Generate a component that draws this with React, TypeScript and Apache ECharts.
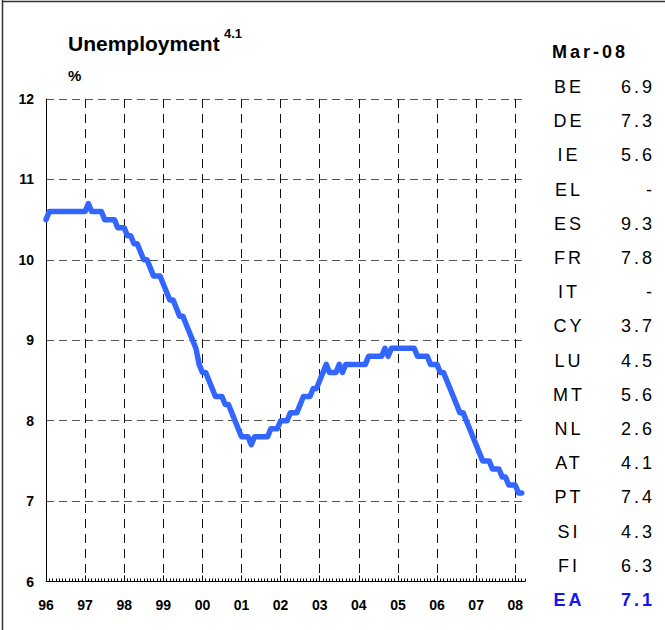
import React, { useEffect, useRef } from "react";
import * as echarts from "echarts";

// ---- data ----
const yearLabels = ["96", "97", "98", "99", "00", "01", "02", "03", "04", "05", "06", "07", "08"];
const axisMonthCount = 148; // Jan 96 .. Apr 08

const u1996 = [10.5, 10.6, 10.6, 10.6, 10.6, 10.6, 10.6, 10.6, 10.6, 10.6, 10.6, 10.6];
const u1997 = [10.6, 10.7, 10.6, 10.6, 10.6, 10.6, 10.5, 10.5, 10.5, 10.5, 10.4, 10.4];
const u1998 = [10.4, 10.3, 10.3, 10.2, 10.2, 10.1, 10.0, 10.0, 9.9, 9.8, 9.8, 9.8];
const u1999 = [9.7, 9.6, 9.5, 9.5, 9.4, 9.3, 9.3, 9.2, 9.1, 9.0, 8.9, 8.7];
const u2000 = [8.6, 8.6, 8.5, 8.4, 8.3, 8.3, 8.3, 8.2, 8.2, 8.1, 8.0, 7.9];
const u2001 = [7.8, 7.8, 7.8, 7.7, 7.8, 7.8, 7.8, 7.8, 7.8, 7.9, 7.9, 7.9];
const u2002 = [8.0, 8.0, 8.0, 8.1, 8.1, 8.1, 8.2, 8.3, 8.3, 8.3, 8.4, 8.4];
const u2003 = [8.5, 8.6, 8.7, 8.6, 8.6, 8.6, 8.7, 8.6, 8.7, 8.7, 8.7, 8.7];
const u2004 = [8.7, 8.7, 8.7, 8.8, 8.8, 8.8, 8.8, 8.8, 8.9, 8.8, 8.9, 8.9];
const u2005 = [8.9, 8.9, 8.9, 8.9, 8.9, 8.9, 8.8, 8.8, 8.8, 8.8, 8.7, 8.7];
const u2006 = [8.7, 8.6, 8.6, 8.5, 8.4, 8.3, 8.2, 8.1, 8.1, 8.0, 7.9, 7.8];
const u2007 = [7.7, 7.6, 7.5, 7.5, 7.5, 7.4, 7.4, 7.4, 7.3, 7.3, 7.2, 7.2];
const u2008 = [7.2, 7.1, 7.1];

const unemployment = [
  ...u1996, ...u1997, ...u1998, ...u1999, ...u2000, ...u2001, ...u2002,
  ...u2003, ...u2004, ...u2005, ...u2006, ...u2007, ...u2008,
];

const yMin = 6;
const yMax = 12;
const yStep = 1;

const tableHeader = "Mar-08";
const countryCodes = ["BE", "DE", "IE", "EL", "ES", "FR", "IT", "CY", "LU", "MT", "NL", "AT", "PT", "SI", "FI"];
const countryValues = ["6.9", "7.3", "5.6", "-", "9.3", "7.8", "-", "3.7", "4.5", "5.6", "2.6", "4.1", "7.4", "4.3", "6.3"];
const aggregateCode = "EA";
const aggregateValue = "7.1";

const months: string[] = [];
yearLabels.forEach((y) => {
  for (let m = 1; m <= 12; m++) months.push(`${y}-${m < 10 ? "0" + m : m}`);
});
const axisMonths = months.slice(0, axisMonthCount);

const FONT = "Arial, 'Liberation Sans', sans-serif";

export default function App() {
  const ref = useRef<HTMLDivElement>(null);
  const tref = useRef<HTMLDivElement>(null);
  useEffect(() => {
    if (!ref.current || !tref.current) return;
    const chart = echarts.init(ref.current, undefined, { renderer: "svg" });
    const table = echarts.init(tref.current, undefined, { renderer: "svg" });
    const yearTick = (i: number) => i % 12 === 0;

    const graphics: any[] = [
      { type: "line", shape: { x1: 2.5, y1: 0, x2: 2.5, y2: 630 }, style: { stroke: "#333", lineWidth: 1.5 } },
      { type: "line", shape: { x1: 2, y1: 1.5, x2: 665, y2: 1.5 }, style: { stroke: "#333", lineWidth: 1.5 } },
      {
        type: "text",
        style: { text: "Unemployment", x: 68, y: 43, font: `bold 21px ${FONT}`, fill: "#000", align: "left", verticalAlign: "middle" },
      },
      {
        type: "text",
        style: { text: "4.1", x: 224, y: 33, font: `bold 13px ${FONT}`, fill: "#000", align: "left", verticalAlign: "middle" },
      },
      {
        type: "text",
        style: { text: "%", x: 68, y: 75, font: `bold 15px ${FONT}`, fill: "#000", align: "left", verticalAlign: "middle" },
      },
    ];

    const tgraphics: any[] = [
      {
        type: "text",
        style: { text: tableHeader, x: 552, y: 51.5, font: `bold 18px ${FONT}`, fill: "#000", align: "left", verticalAlign: "middle" },
      },
    ];
    const rowY = (i: number) => 87 + i * 34.2;
    countryCodes.forEach((c, i) => {
      tgraphics.push({
        type: "text",
        style: { text: c, x: 569, y: rowY(i), font: `18px ${FONT}`, fill: "#000", align: "center", verticalAlign: "middle" },
      });
      tgraphics.push({
        type: "text",
        style: { text: countryValues[i], x: 655, y: rowY(i), font: `18px ${FONT}`, fill: "#000", align: "right", verticalAlign: "middle" },
      });
    });
    const n = countryCodes.length;
    tgraphics.push({
      type: "text",
      style: { text: aggregateCode, x: 569, y: rowY(n), font: `bold 18px ${FONT}`, fill: "#1414f5", align: "center", verticalAlign: "middle" },
    });
    tgraphics.push({
      type: "text",
      style: { text: aggregateValue, x: 655, y: rowY(n), font: `bold 18px ${FONT}`, fill: "#1414f5", align: "right", verticalAlign: "middle" },
    });

    chart.setOption({
      animation: false,
      backgroundColor: "#fff",
      grid: { left: 46, top: 99, width: 479, height: 482.5, outerBoundsMode: "none", containLabel: false },
      xAxis: [
        {
          type: "category",
          data: axisMonths,
          boundaryGap: false,
          position: "bottom",
          axisLine: { show: true, lineStyle: { color: "#000", width: 1 } },
          axisTick: { show: true, inside: true, length: 3, interval: 0, lineStyle: { color: "#000", width: 1 } },
          axisLabel: { show: false },
          splitLine: { show: false },
        },
        {
          type: "category",
          data: axisMonths,
          boundaryGap: false,
          position: "bottom",
          axisLine: { show: false },
          axisTick: { show: true, inside: true, length: 6, interval: yearTick, lineStyle: { color: "#000", width: 1 } },
          axisLabel: {
            show: true,
            interval: yearTick,
            formatter: (v: string) => v.split("-")[0],
            color: "#000",
            fontFamily: FONT,
            fontWeight: "bold",
            fontSize: 14,
            margin: 16,
          },
          splitLine: { show: true, interval: yearTick, lineStyle: { color: "#111", type: [9, 6], width: 1 } },
        },
      ],
      yAxis: {
        type: "value",
        min: yMin,
        max: yMax,
        interval: yStep,
        axisLine: { show: true, lineStyle: { color: "#000", width: 1 } },
        axisTick: { show: false },
        axisLabel: { color: "#000", fontFamily: FONT, fontWeight: "bold", fontSize: 14, margin: 12 },
        splitLine: { show: true, lineStyle: { color: "#555", type: [8, 5], width: 1 } },
      },
      series: [
        {
          type: "line",
          xAxisIndex: 0,
          data: unemployment,
          showSymbol: false,
          symbol: "none",
          lineStyle: { color: "#3366ff", width: 5.5, cap: "round", join: "round" },
          z: 5,
        },
      ],
      graphic: graphics,
    });

    table.setOption({
      animation: false,
      graphic: tgraphics,
    });

    return () => {
      chart.dispose();
      table.dispose();
    };
  }, []);

  return (
    <>
      <style>{`#tablebox text{letter-spacing:3px;}`}</style>
      <div
        ref={ref}
        style={{ position: "fixed", left: 0, top: 0, width: 665, height: 630 }}
      />
      <div
        id="tablebox"
        ref={tref}
        style={{ position: "fixed", left: 0, top: 0, width: 665, height: 630, pointerEvents: "none" }}
      />
    </>
  );
}
